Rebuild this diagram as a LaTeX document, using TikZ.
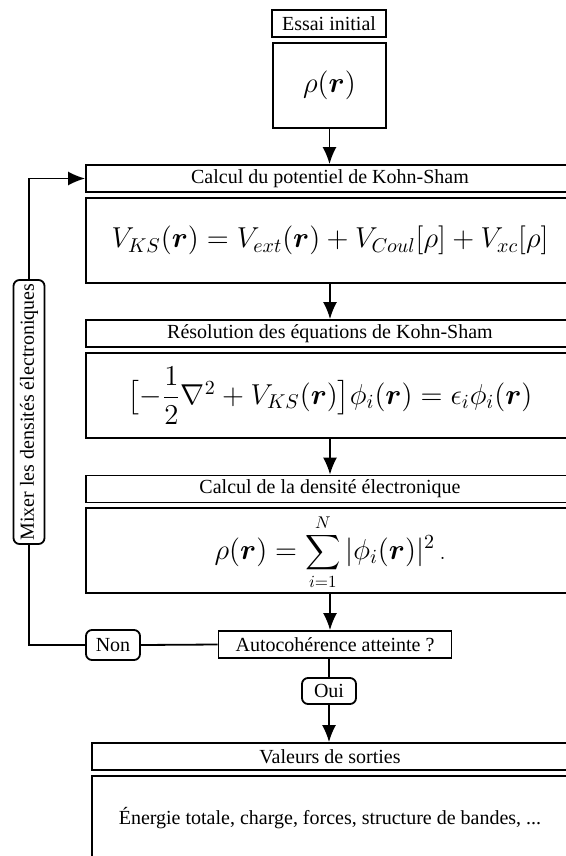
\documentclass[tikz,border=0pt]{standalone}
\usepackage{amsmath}
\usepackage[no-math]{fontspec}
\setmainfont{Liberation Serif}
\usetikzlibrary{arrows.meta}
\newcommand{\rr}{\boldsymbol{r}}
\begin{document}
\begin{tikzpicture}[x=0.5pt,y=-0.5pt,
  box/.style={draw,line width=0.9pt,inner sep=0pt,font=\fontsize{10}{12}\selectfont,minimum height=13.5pt},
  wide/.style={box,minimum width=244pt},
  eqbox/.style={draw,line width=0.9pt,inner sep=0pt,minimum width=244pt,minimum height=42.5pt,font=\Large},
  rbox/.style={draw,line width=0.9pt,rounded corners=3pt,inner sep=0pt,font=\fontsize{10}{12}\selectfont},
  arr/.style={line width=0.9pt,-{Latex[length=8.5pt,width=7pt]}},
  ln/.style={line width=0.9pt}]
\useasboundingbox (0,0) rectangle (566,856);
\node[box,minimum width=57pt] (essai) at (329,23.5) {Essai initial};
\node[draw,line width=0.9pt,minimum width=56.5pt,minimum height=42.5pt,inner sep=0pt,font=\Large] (rho0) at (329.5,85.5) {$\rho(\rr)$};
\node[wide] (pot) at (330,178.5) {Calcul du potentiel de Kohn-Sham};
\node[eqbox] (vks) at (330,240.5) {$V_{KS}(\rr)=V_{ext}(\rr)+V_{Coul}[\rho]+V_{xc}[\rho]$};
\node[wide] (res) at (330,333.5) {Résolution des équations de Kohn-Sham};
\node[eqbox] (eqks) at (330,395.5) {$\bigl[-\dfrac{1}{2}\nabla^2+V_{KS}(\rr)\bigr]\phi_i(\rr)=\epsilon_i\phi_i(\rr)$};
\node[wide] (dens) at (330,489) {Calcul de la densité électronique};
\node[eqbox] (eqrho) at (330,550.5) {};
\node[inner sep=0pt,font=\Large] (rhosum) at (330,552) {$\rho(\rr)=\mathop{\vcenter{\hbox{\scalebox{0.85}{$\displaystyle\sum_{i=1}^{N}$}}}}|\phi_i(\rr)|^2\,{\scriptstyle.}$};
\node[box,minimum width=116.5pt] (auto) at (335,644.5) {Autocohérence atteinte ?};
\node[rbox,minimum width=27pt,minimum height=15pt] (non) at (113,645) {Non};
\node[rbox,minimum width=132pt,minimum height=15.5pt,rotate=90] (mix) at (29,412) {Mixer les densités électroniques};
\node[rbox,minimum width=27pt,minimum height=13pt] (oui) at (329,691) {Oui};
\node[box,minimum width=238pt] (val) at (330,756.5) {Valeurs de sorties};
\node[draw,line width=0.9pt,minimum width=238pt,minimum height=42.5pt,inner sep=0pt,font=\fontsize{10}{12}\selectfont] (ener) at (330,818.5) {Énergie totale, charge, forces, structure de bandes, ...};
\draw[arr] (rho0.south) -- (rho0.south |- pot.north);
\draw[arr] (vks.south) -- (res.north);
\draw[arr] (eqks.south) -- (dens.north);
\draw[arr] (eqrho.south) -- (eqrho.south |- auto.north);
\draw[ln] (auto.west) -- (non.east);
\draw[ln] (non.west) -| (mix);
\draw[arr] (mix) |- (pot.west);
\draw[ln] (oui.north |- auto.south) -- (oui.north);
\draw[arr] (oui.south) -- (oui.south |- val.north);
\end{tikzpicture}
\end{document}
